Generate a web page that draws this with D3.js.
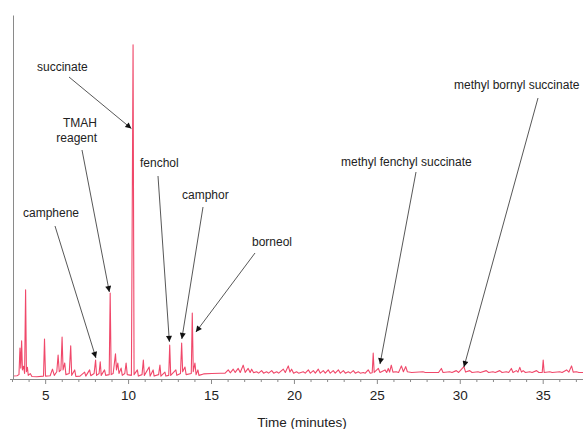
<!DOCTYPE html>
<html><head><meta charset="utf-8">
<script src="https://cdn.jsdelivr.net/npm/d3@7"></script>
<style>
html,body{margin:0;padding:0;background:#fff;}
svg{display:block;font-family:"Liberation Sans",Arial,sans-serif;}
</style></head>
<body>
<svg id="chart" width="583" height="429"></svg>
<script>
// Retention time (minutes) and detector signal (% of full scale)
const timeMin = [
 3.0,3.3,3.42,3.48,3.53,3.58,3.63,3.70,3.76,3.82,3.87,3.93,3.98,4.1,4.2,4.5,4.9,4.96,5.02,5.3,
 5.44,5.55,5.70,5.78,5.85,5.95,6.02,6.08,6.18,6.25,6.45,6.54,6.6,6.78,6.85,7.1,7.38,7.45,7.68,7.75,
 7.95,8.04,8.1,8.25,8.32,8.38,8.58,8.65,8.86,8.92,8.98,9.1,9.24,9.3,9.38,9.45,9.58,9.65,9.8,9.88,
 9.95,10.2,10.3,10.36,10.56,10.62,10.84,10.92,10.98,11.27,11.33,11.51,11.57,11.84,11.92,11.98,12.22,12.28,12.45,12.51,
 12.57,12.88,12.94,13.16,13.23,13.29,13.43,13.5,13.81,13.87,13.93,14.03,14.1,14.21,14.27,14.55,15.05,15.55,15.85,16.04,
 16.16,16.34,16.46,16.64,16.76,16.94,17.06,17.24,17.36,17.45,17.57,17.75,17.87,18.05,18.17,18.35,18.47,18.66,18.78,18.96,
 19.08,19.36,19.48,19.66,19.76,19.86,19.98,20.16,20.28,20.56,20.68,20.87,20.99,21.17,21.29,21.47,21.59,21.77,21.89,22.07,
 22.19,22.37,22.49,22.68,22.8,22.98,23.1,23.28,23.4,23.58,23.7,23.88,24.0,24.18,24.3,24.48,24.6,24.72,24.78,24.84,
 25.09,25.19,25.49,25.59,25.69,25.77,25.87,25.97,26.17,26.31,26.48,26.6,26.74,26.84,27.1,27.78,27.92,28.72,28.89,28.99,
 29.39,29.53,29.79,29.93,30.25,30.35,30.6,30.74,31.1,31.24,31.6,31.74,32.0,32.14,32.41,32.55,32.81,32.95,33.11,33.21,
 33.41,33.51,33.62,33.72,33.82,33.96,34.22,34.36,34.63,34.77,34.97,35.03,35.09,35.43,35.57,36.03,36.17,36.44,36.58,36.74,
 36.84,37.04,37.18,37.43
];
const signal = [
 0.8,0.9,1.2,8.5,3.0,10.5,2.5,3.5,1.5,24.5,2.0,3.2,1.0,1.5,0.7,0.6,0.8,11.0,0.8,0.9,
 2.7,1.0,2.0,6.6,2.0,2.5,11.5,2.5,4.4,1.2,1.5,9.1,1.0,2.5,0.7,0.8,1.9,0.8,2.5,0.9,
 1.5,5.2,1.0,1.5,4.7,1.0,2.5,1.0,1.2,23.6,1.2,1.5,6.9,2.5,4.4,1.5,3.0,1.0,1.5,4.4,
 1.2,1.0,91.8,1.2,2.5,0.8,1.2,5.2,1.0,3.3,0.8,2.5,0.8,1.2,3.8,0.8,1.9,0.8,1.0,9.3,
 1.0,2.5,1.0,1.5,9.9,2.0,3.3,1.2,1.5,18.1,2.0,4.4,1.2,2.5,1.0,1.4,1.5,1.6,1.6,2.5,
 1.7,2.7,1.8,2.9,1.8,3.8,1.8,2.9,1.8,2.7,1.7,2.0,1.6,2.3,1.6,2.0,1.6,2.3,1.6,2.0,
 1.6,2.7,1.8,3.6,1.9,2.7,1.6,2.0,1.6,2.0,1.6,2.5,1.6,2.3,1.6,2.7,1.6,2.3,1.6,2.5,
 1.6,2.3,1.6,2.5,1.6,2.3,1.6,2.0,1.6,2.3,1.6,2.0,1.6,1.8,1.6,2.5,1.6,1.7,7.1,1.8,
 2.9,1.8,2.5,1.8,2.9,1.9,3.8,1.9,2.0,1.8,3.6,2.0,3.4,2.0,1.8,2.0,1.8,1.8,2.9,1.8,
 2.0,1.8,2.3,1.8,3.4,1.9,2.3,1.8,2.0,1.8,2.3,1.8,2.0,1.8,2.3,1.8,2.0,1.8,2.9,1.8,
 2.3,1.9,3.2,1.9,2.3,1.8,2.0,1.8,2.3,1.8,1.8,5.2,1.8,2.0,1.8,2.0,1.8,2.5,1.9,3.6,
 1.9,2.0,1.8,1.8
];
const majorTicks = [5, 10, 15, 20, 25, 30, 35];
const minorTicks = [3,4,6,7,8,9,11,12,13,14,16,17,18,19,21,22,23,24,26,27,28,29,31,32,33,34,36,37];
const xTitle = "Time (minutes)";

// Annotation labels and the (time, signal) point each arrow points to
const annLabels = ["succinate", "TMAH\nreagent", "camphene", "fenchol", "camphor", "borneol", "methyl fenchyl succinate", "methyl bornyl succinate"];
const annTipTime = [10.2, 8.87, 8.06, 12.49, 13.24, 14.09, 25.19, 30.25];
const annTipSignal = [68.8, 23.9, 5.8, 10.2, 11.0, 12.9, 4.1, 3.3];

// Layout (pixels) for labels: [x, baseline y, anchor] and arrow start
const annLayout = [
  {x: 37, y: 71, anchor: "start", sx: 69, sy: 77},
  {x: 97, y: 127, anchor: "end", sx: 82, sy: 150},
  {x: 23, y: 217, anchor: "start", sx: 55, sy: 226},
  {x: 140, y: 167, anchor: "start", sx: 158, sy: 176},
  {x: 182, y: 199, anchor: "start", sx: 203, sy: 207},
  {x: 252, y: 246, anchor: "start", sx: 255, sy: 253},
  {x: 341, y: 166, anchor: "start", sx: 416, sy: 172},
  {x: 454, y: 89, anchor: "start", sx: 538, sy: 98}
];

const svg = d3.select("#chart");
const x = d3.scaleLinear().domain([3, 37.43]).range([12, 583]);
const y = d3.scaleLinear().domain([0, 100]).range([379, 15]);
const axisColor = "#8a8a8a";

// defs
const defs = svg.append("defs");
defs.append("clipPath").attr("id", "plotclip").append("rect")
  .attr("x", 13).attr("y", 0).attr("width", 570).attr("height", 379);
defs.append("marker").attr("id", "arrowhead")
  .attr("viewBox", "0 0 10 10").attr("refX", 10).attr("refY", 5)
  .attr("markerUnits", "userSpaceOnUse")
  .attr("markerWidth", 8).attr("markerHeight", 6).attr("orient", "auto")
  .append("path").attr("d", "M0,0 L10,5 L0,10 Z").attr("fill", "#111");

// trace
const pts = timeMin.map((t, i) => [t, signal[i]]);
const line = d3.line().x(d => x(d[0])).y(d => y(d[1]));
svg.append("path").datum(pts)
  .attr("clip-path", "url(#plotclip)")
  .attr("d", line)
  .attr("fill", "none")
  .attr("stroke", "#f0486a")
  .attr("stroke-width", 1.1)
  .attr("stroke-linejoin", "round");

// x axis (major ticks labelled, minor unlabeled)
const gx = svg.append("g").attr("transform", `translate(0,${y(0)})`);
gx.call(d3.axisBottom(x).tickValues(majorTicks).tickSize(5).tickSizeOuter(0).tickPadding(6).tickFormat(d3.format("d")));
gx.call(g => g.select(".domain").attr("stroke", axisColor).attr("d", `M10,0.5H583`));
gx.selectAll(".tick line").attr("stroke", axisColor);
gx.selectAll(".tick text").attr("fill", "#222").style("font-size", "13.5px").style("font-family", "Liberation Sans, Arial, sans-serif");
const gxm = svg.append("g").attr("transform", `translate(0,${y(0)})`);
gxm.call(d3.axisBottom(x).tickValues(minorTicks).tickSize(3).tickSizeOuter(0).tickFormat(""));
gxm.select(".domain").remove();
gxm.selectAll(".tick line").attr("stroke", axisColor);

// y axis (line only)
const gy = svg.append("g").attr("transform", `translate(13,0)`);
gy.call(d3.axisLeft(y).tickValues([]).tickSizeOuter(0));
gy.select(".domain").attr("stroke", axisColor);

// x title
svg.append("text").attr("x", 302).attr("y", 427).attr("text-anchor", "middle")
  .attr("fill", "#222").style("font-size", "13.5px").text(xTitle);

// annotations
annLabels.forEach((lab, i) => {
  const L = annLayout[i];
  const tx = svg.append("text").attr("x", L.x).attr("y", L.y)
    .attr("text-anchor", L.anchor).attr("fill", "#222").style("font-size", "12px");
  lab.split("\n").forEach((s, j) => {
    tx.append("tspan").attr("x", L.x).attr("dy", j === 0 ? 0 : 15).text(s);
  });
  svg.append("line")
    .attr("x1", L.sx).attr("y1", L.sy)
    .attr("x2", x(annTipTime[i])).attr("y2", y(annTipSignal[i]))
    .attr("stroke", "#444").attr("stroke-width", 0.9)
    .attr("marker-end", "url(#arrowhead)");
});
</script>
</body></html>
